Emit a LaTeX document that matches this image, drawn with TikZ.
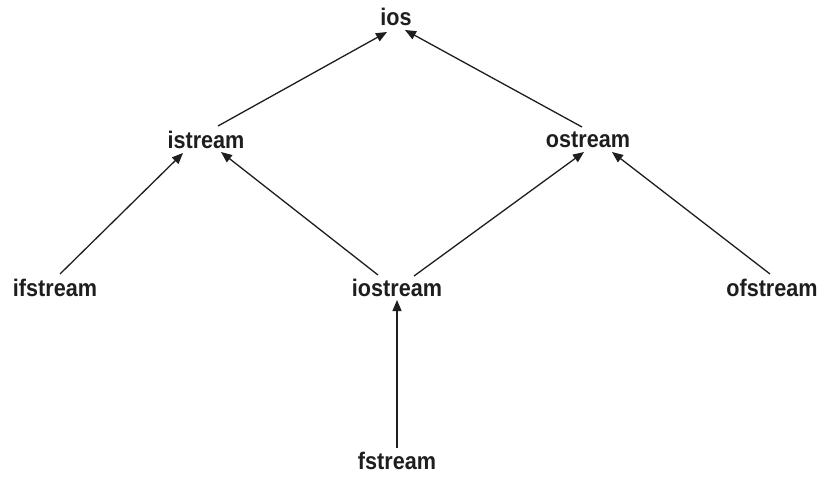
\documentclass[tikz,border=0pt]{standalone}
\usepackage{fontspec}
\setmainfont{Liberation Sans}
\usetikzlibrary{arrows.meta}
\definecolor{ink}{HTML}{1E1E1E}
\begin{document}
\begin{tikzpicture}[x=1pt,y=-1pt,
  cls/.style={inner sep=1pt, text=ink, font=\fontsize{24}{28}\selectfont\bfseries, xscale=0.9},
  inh/.style={draw=ink, line width=1.3pt, -{Triangle[length=11pt,width=9pt]}}]
\useasboundingbox[fill=white] (0,0) rectangle (818,492);
\node[cls] (ios) at (396,17) {ios};
\node[cls] (istream) at (206,140) {istream};
\node[cls] (ostream) at (588,140) {ostream};
\node[cls] (ifstream) at (55,288) {ifstream};
\node[cls] (iostream) at (397,288) {iostream};
\node[cls] (ofstream) at (772,288) {ofstream};
\node[cls] (fstream) at (397,461) {fstream};
\coordinate (iosL) at (387,32);
\coordinate (iosR) at (405,30);
\draw[inh] (218,126) -- (iosL);
\draw[inh] (582,127) -- (iosR);
\draw[inh] (60,274) -- (183,153);
\draw[inh] (378,275) -- (221,152);
\draw[inh] (414,276) -- (584,152);
\draw[inh] (770,274) -- (612,152);
\draw[inh] ([yshift=3pt]fstream.north) -- ([yshift=-2pt]iostream.south);
\end{tikzpicture}
\end{document}
